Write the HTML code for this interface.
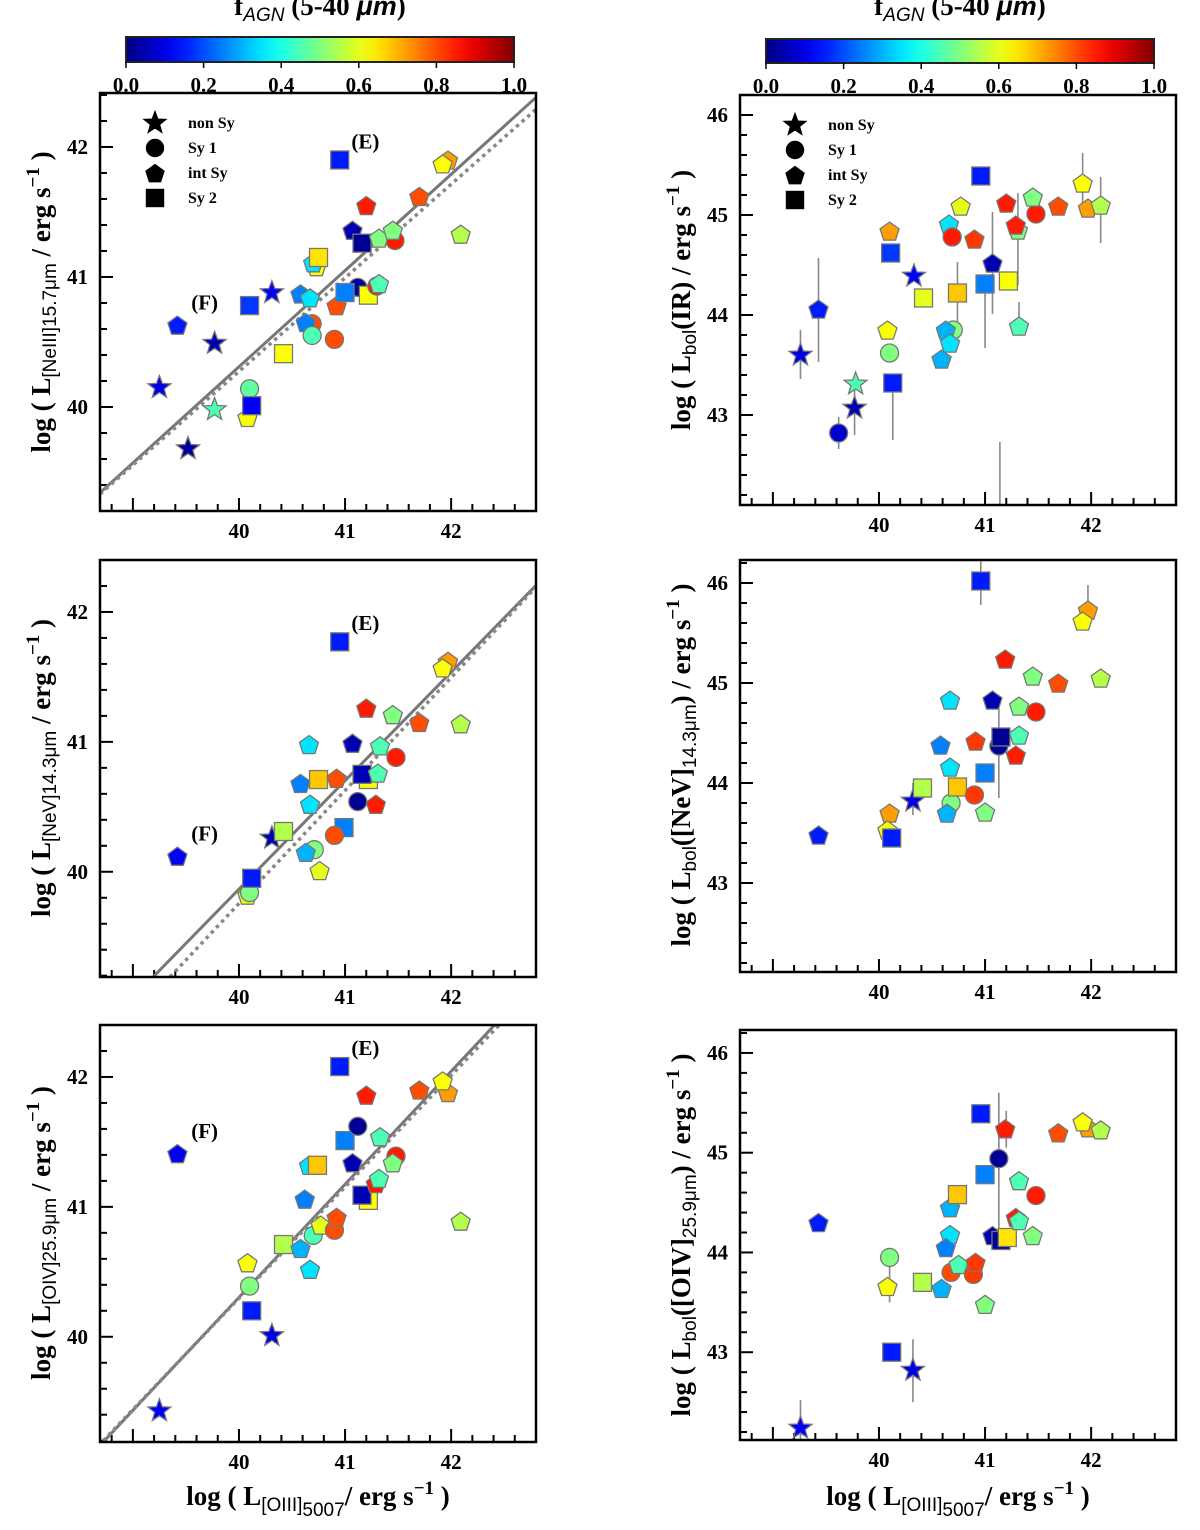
<!DOCTYPE html>
<html><head><meta charset="utf-8"><style>
html,body{margin:0;padding:0;background:#fff;}
svg{display:block;}
.tk{font-family:"Liberation Serif",serif;font-weight:bold;font-size:21px;fill:#000;}
.ttl{font-family:"Liberation Serif",serif;font-weight:bold;font-size:27px;fill:#000;}
.sub{font-family:"Liberation Sans",sans-serif;font-weight:normal;font-size:19px;}
.leg{font-family:"Liberation Serif",serif;font-weight:bold;font-size:16px;fill:#000;}
</style></head><body>
<svg id="fig" width="1200" height="1530" viewBox="0 0 1200 1530" xmlns="http://www.w3.org/2000/svg"></svg>
<script>
// ===== data =====
const cbTicks = [0.0, 0.2, 0.4, 0.6, 0.8, 1.0];
const xTicks = [40, 41, 42];
const yTicksLeft = [40, 41, 42];
const yTicksRight = [43, 44, 45, 46];

// panel 1: [NeIII] vs [OIII]
const p1X = [39.25,39.77,40.31,39.52,39.77,39.42,40.10,40.42,40.08,40.10,40.12,40.69,40.58,40.67,40.63,40.69,40.73,40.70,40.75,40.95,40.90,40.92,41.12,41.00,41.22,41.07,41.16,41.20,41.47,41.30,41.32,41.32,41.45,41.70,41.97,41.92,42.09];
const p1Y = [40.15,40.49,40.88,39.68,39.98,40.63,40.78,40.41,39.92,40.14,40.01,40.64,40.87,40.84,40.65,40.55,41.08,41.11,41.15,41.90,40.52,40.78,40.92,40.88,40.86,41.36,41.26,41.55,41.28,40.93,40.95,41.30,41.36,41.62,41.90,41.87,41.33];
const p1T = ['s','s','s','s','s','p','q','q','p','c','q','c','p','p','p','c','p','p','q','q','c','p','c','q','q','p','q','p','c','c','p','p','p','p','p','p','p'];
const p1F = [0.1,0.05,0.12,0.03,0.45,0.15,0.18,0.62,0.62,0.47,0.12,0.8,0.25,0.35,0.25,0.45,0.62,0.35,0.65,0.15,0.8,0.8,0.02,0.25,0.62,0.05,0.02,0.85,0.85,0.85,0.45,0.5,0.5,0.8,0.72,0.62,0.55];
const p1Fit = [0.74, 39.34, 38.69]; // slope, y at x0, x0
const p1Fit2 = [0.72, 39.33, 38.69];

// panel 2: [NeV] vs [OIII]
const p2X = [39.42,40.31,40.42,40.08,40.10,40.12,40.66,40.58,40.67,40.71,40.63,40.76,40.75,40.95,40.99,40.90,40.92,41.07,41.12,41.22,41.16,41.20,41.29,41.33,41.31,41.45,41.48,41.70,41.97,41.92,42.09];
const p2Y = [40.12,40.26,40.31,39.82,39.84,39.95,40.98,40.68,40.52,40.17,40.15,40.01,40.71,41.77,40.34,40.28,40.72,40.99,40.54,40.71,40.75,41.26,40.52,40.97,40.76,41.21,40.88,41.15,41.62,41.57,41.14];
const p2T = ['p','s','q','p','c','q','p','p','p','c','p','p','q','q','q','c','p','p','c','q','q','p','p','p','p','p','c','p','p','p','p'];
const p2F = [0.12,0.05,0.55,0.6,0.5,0.15,0.35,0.25,0.35,0.5,0.3,0.6,0.68,0.15,0.25,0.8,0.8,0.05,0.02,0.62,0.05,0.85,0.85,0.45,0.45,0.5,0.85,0.8,0.72,0.62,0.55];
const p2Fit = [0.835, 39.19, 39.19];
const p2Fit2 = [0.87, 39.19, 39.35];

// panel 3: [OIV] vs [OIII]
const p3X = [39.25,40.31,39.42,40.08,40.10,40.12,40.42,40.58,40.67,40.70,40.62,40.66,40.74,40.77,40.90,40.92,40.95,41.00,41.12,41.07,41.22,41.16,41.20,41.29,41.33,41.32,41.48,41.45,41.70,41.97,41.92,42.09];
const p3Y = [39.43,40.01,41.41,40.57,40.39,40.20,40.71,40.68,40.52,40.78,41.06,41.32,41.32,40.86,40.82,40.92,42.08,41.51,41.62,41.34,41.05,41.09,41.86,41.18,41.54,41.22,41.39,41.34,41.90,41.88,41.97,40.89];
const p3T = ['s','s','p','p','c','q','q','p','p','c','p','p','q','p','c','p','q','q','c','p','q','q','p','p','p','p','c','p','p','p','p','p'];
const p3F = [0.12,0.1,0.12,0.62,0.5,0.15,0.55,0.3,0.35,0.45,0.25,0.35,0.68,0.6,0.8,0.8,0.15,0.25,0.02,0.05,0.62,0.05,0.85,0.85,0.45,0.45,0.85,0.5,0.8,0.72,0.62,0.55];
const p3Fit = [0.87, 39.19, 38.72];
const p3Fit2 = [0.857, 39.20, 38.72];

// panel 4: Lbol(IR) vs [OIII]
const p4X = [39.26,39.43,39.78,39.77,39.62,40.10,40.11,40.08,40.10,40.13,40.33,40.42,40.77,40.66,40.69,40.90,40.96,41.07,41.00,40.74,41.22,40.70,40.63,40.67,40.59,41.32,41.20,41.31,41.29,41.48,41.45,41.69,41.92,41.97,42.09];
const p4Y = [43.60,44.06,43.31,43.07,42.82,44.84,44.62,43.85,43.62,43.32,44.39,44.17,45.09,44.91,44.78,44.76,45.39,44.52,44.31,44.22,44.34,43.85,43.85,43.72,43.56,43.89,45.12,44.85,44.90,45.01,45.18,45.09,45.32,45.07,45.10];
const p4T = ['s','p','s','s','c','p','q','p','c','q','s','q','p','p','c','p','q','p','q','q','q','c','p','p','p','p','p','p','p','c','p','p','p','p','p'];
const p4F = [0.1,0.15,0.45,0.05,0.08,0.72,0.18,0.62,0.5,0.15,0.12,0.6,0.6,0.35,0.85,0.82,0.15,0.05,0.25,0.68,0.62,0.5,0.3,0.35,0.3,0.45,0.85,0.5,0.85,0.85,0.5,0.8,0.62,0.72,0.55];
const p4ErrX = [39.26,39.43,39.77,39.62,40.13,41.07,41.00,40.74,41.32,41.31,41.92,42.09,41.14];
const p4ErrLo = [43.36,43.53,42.80,42.66,42.75,44.01,43.67,43.85,43.79,44.30,45.07,44.72,42.10];
const p4ErrHi = [43.85,44.57,43.35,42.98,43.40,45.03,44.36,44.53,44.13,45.22,45.62,45.38,42.73];

// panel 5: Lbol([NeV]) vs [OIII]
const p5X = [40.96,39.43,40.32,40.10,40.08,40.12,40.41,40.68,40.64,40.67,40.58,40.67,40.74,40.90,40.91,41.00,41.00,41.13,41.07,41.15,41.19,41.29,41.32,41.32,41.48,41.45,41.69,41.97,41.92,42.09];
const p5Y = [46.02,43.48,43.82,43.70,43.53,43.45,43.95,43.80,43.70,44.16,44.38,44.83,43.96,43.88,44.42,43.71,44.10,44.37,44.83,44.46,45.24,44.28,44.48,44.77,44.71,45.07,45.00,45.73,45.62,45.05];
const p5T = ['q','p','s','p','p','q','q','c','p','p','p','p','q','c','p','p','q','c','p','q','p','p','p','p','c','p','p','p','p','p'];
const p5F = [0.15,0.15,0.1,0.72,0.62,0.15,0.55,0.5,0.3,0.35,0.25,0.35,0.68,0.82,0.82,0.5,0.25,0.02,0.05,0.02,0.85,0.85,0.45,0.5,0.85,0.5,0.8,0.72,0.62,0.55];
const p5ErrX = [40.96,40.32,41.13,41.97];
const p5ErrLo = [45.78,43.68,43.85,45.55];
const p5ErrHi = [46.24,44.00,44.75,45.98];

// panel 6: Lbol([OIV]) vs [OIII]
const p6X = [39.26,39.43,40.32,40.12,40.10,40.08,40.41,40.59,40.68,40.67,40.67,40.63,40.74,40.75,40.89,40.91,40.96,41.00,41.00,41.13,41.07,41.15,41.19,41.21,41.29,41.32,41.32,41.45,41.48,41.69,41.97,41.92,42.09];
const p6Y = [42.24,44.30,42.82,43.00,43.95,43.66,43.70,43.64,43.80,44.18,44.45,44.05,44.58,43.88,43.78,43.90,45.39,44.78,43.48,44.94,44.17,44.12,45.24,44.15,44.35,44.72,44.32,44.17,44.57,45.20,45.25,45.31,45.23];
const p6T = ['s','p','s','q','c','p','q','p','c','p','p','p','q','p','c','p','q','q','p','c','p','q','p','q','p','p','p','p','c','p','p','p','p'];
const p6F = [0.12,0.15,0.1,0.15,0.5,0.62,0.55,0.3,0.8,0.35,0.3,0.25,0.68,0.45,0.82,0.82,0.15,0.25,0.5,0.02,0.05,0.02,0.85,0.65,0.85,0.45,0.45,0.5,0.85,0.8,0.72,0.62,0.55];
const p6ErrX = [39.26,40.32,41.13,40.12,40.10,41.20];
const p6ErrLo = [42.10,42.50,44.21,43.00,43.50,45.05];
const p6ErrHi = [42.52,43.13,45.60,43.00,43.95,45.42];

// ===== drawing =====
const NS = 'http://www.w3.org/2000/svg';
const svg = document.getElementById('fig');
function mk(tag, attrs, parent){
  const e = document.createElementNS(NS, tag);
  for (const k in attrs) e.setAttribute(k, attrs[k]);
  (parent||svg).appendChild(e);
  return e;
}
function jet(f){
  const c = v => Math.round(255*Math.max(0,Math.min(1,v)));
  return 'rgb('+c(1.5-Math.abs(4*f-3))+','+c(1.5-Math.abs(4*f-2))+','+c(1.5-Math.abs(4*f-1))+')';
}
function linScale(d0,d1,r0,r1){ return v => r0 + (v-d0)/(d1-d0)*(r1-r0); }

function marker(g, t, cx, cy, fill, stroke, sz){
  let e;
  if (t==='q'){ const h=9*sz; e = mk('rect',{x:cx-h,y:cy-h,width:2*h,height:2*h},g); }
  else if (t==='c'){ e = mk('circle',{cx:cx,cy:cy,r:9*sz},g); }
  else if (t==='p'){
    const r=10*sz, pts=[];
    for(let i=0;i<5;i++){const a=-Math.PI/2+i*2*Math.PI/5; pts.push((cx+r*Math.cos(a)).toFixed(1)+','+(cy+1+r*Math.sin(a)).toFixed(1));}
    e = mk('polygon',{points:pts.join(' ')},g);
  } else {
    const R=12*sz, r=5*sz, pts=[];
    for(let i=0;i<10;i++){const a=-Math.PI/2+i*Math.PI/5, rr=i%2?r:R; pts.push((cx+rr*Math.cos(a)).toFixed(1)+','+(cy+rr*Math.sin(a)).toFixed(1));}
    e = mk('polygon',{points:pts.join(' ')},g);
  }
  e.setAttribute('fill', fill);
  e.setAttribute('stroke', stroke);
  e.setAttribute('stroke-width', 1.3);
  return e;
}

function panel(cfg){
  const g = mk('g',{});
  
  
  const sx = linScale(cfg.xd[0],cfg.xd[1],cfg.x0,cfg.x1);
  const sy = linScale(cfg.yd[0],cfg.yd[1],cfg.y1,cfg.y0);
  const clipId = 'clip-'+cfg.name;
  const cp = mk('clipPath',{id:clipId},g);
  mk('rect',{x:cfg.x0,y:cfg.y0,width:cfg.x1-cfg.x0,height:cfg.y1-cfg.y0},cp);
  const tg = mk('g',{stroke:'#000','stroke-width':2},g);
  
  
  for (let v=Math.ceil(cfg.xd[0]*5)/5; v<=cfg.xd[1]; v+=0.2){
    const major = Math.abs(v-Math.round(v))<1e-6;
    const X = sx(v);
    mk('line',{x1:X,x2:X,y1:cfg.y1,y2:cfg.y1-(major?13:7)},tg);
  }
  for (let v=Math.ceil(cfg.yd[0]*5)/5; v<=cfg.yd[1]; v+=0.2){
    const major = Math.abs(v-Math.round(v))<1e-6;
    const Y = sy(v);
    mk('line',{x1:cfg.x0,x2:cfg.x0+(major?13:7),y1:Y,y2:Y},tg);
  }
  xTicks.forEach(v=>{
    const t = mk('text',{x:sx(v),y:cfg.y1+27,'text-anchor':'middle',class:'tk'},g);
    t.textContent = v;
    
    
  });
  cfg.yt.forEach(v=>{
    const t = mk('text',{x:cfg.x0-12,y:sy(v)+7,'text-anchor':'end',class:'tk'},g);
    t.textContent = v;
    
    
  });
  const dg = mk('g',{'clip-path':'url(#'+clipId+')'},g);
  if (cfg.fit){
    const f = cfg.fit, f2 = cfg.fit2;
    const l1 = mk('line',{x1:sx(f[2]),y1:sy(f[1]),x2:sx(f[2]+5),y2:sy(f[1]+5*f[0]),stroke:'#777','stroke-width':3},dg);
    
    
    const l2 = mk('line',{x1:sx(f2[2]),y1:sy(f2[1]),x2:sx(f2[2]+5),y2:sy(f2[1]+5*f2[0]),stroke:'#888','stroke-width':3.5,'stroke-dasharray':'3.5 4'},dg);
    
    
  }
  if (cfg.ex){
    cfg.ex.forEach((xv,i)=>{
      const e = mk('line',{x1:sx(xv),x2:sx(xv),y1:sy(cfg.elo[i]),y2:sy(cfg.ehi[i]),stroke:'#888','stroke-width':1.6},dg);
      
      
    });
  }
  cfg.X.forEach((xv,i)=>{
    const m = marker(dg, cfg.T[i], sx(xv), sy(cfg.Y[i]), jet(cfg.F[i]), '#777', 1);
    
    
  });
  (cfg.ann||[]).forEach(a=>{
    const t = mk('text',{x:sx(a[1]),y:sy(a[2]),class:'tk','font-size':'20'},g);
    t.textContent = a[0];
    
    
  });
  const fr = mk('rect',{x:cfg.x0,y:cfg.y0,width:cfg.x1-cfg.x0,height:cfg.y1-cfg.y0,fill:'none',stroke:'#000','stroke-width':2.5},g);
  
  
  if (cfg.legend){
    const lg = mk('g',{},g);
    
    
    const labs=['non Sy','Sy 1','int Sy','Sy 2'], ts=['s','c','p','q'];
    labs.forEach((l,i)=>{
      const yy = cfg.y0+30+i*25;
      const m = marker(lg, ts[i], cfg.x0+55, yy, '#000', '#000', 0.95);
      
      
      const t = mk('text',{x:cfg.x0+88,y:yy+5,class:'leg'},lg);
      t.textContent = l;
      
      
    });
  }
  return {sx,sy};
}

function colorbar(x0,x1,y0,y1,name,cx){
  const g = mk('g',{});
  
  
  const defs = mk('defs',{},g);
  const lg = mk('linearGradient',{id:'grad-'+name,x1:'0',x2:'1',y1:'0',y2:'0'},defs);
  for(let i=0;i<=20;i++){ mk('stop',{offset:(i/20),'stop-color':jet(i/20)},lg); }
  mk('rect',{x:x0,y:y0,width:x1-x0,height:y1-y0,fill:'url(#grad-'+name+')',stroke:'#222','stroke-width':2},g);
  const s = linScale(0,1,x0,x1);
  cbTicks.forEach(v=>{
    mk('line',{x1:s(v),x2:s(v),y1:y1,y2:y1+6,stroke:'#000','stroke-width':1.5},g);
    const t = mk('text',{x:s(v),y:y1+30,'text-anchor':'middle',class:'tk','font-size':'22'},g);
    t.textContent = v.toFixed(1);
    
    
  });
  const t = mk('text',{x:cx,y:15,'text-anchor':'middle',class:'ttl','font-size':'28'},g);
  
  
  t.innerHTML = 'f<tspan class="sub" font-style="italic" dy="6">AGN</tspan><tspan dy="-6"> (5-40 </tspan><tspan font-style="italic" font-family="Liberation Sans, sans-serif">μm</tspan>)';
}

colorbar(126,514,37,62,'colorbar-left',320);
colorbar(766,1154,39,63,'colorbar-right',960);

const LX = [100,536], RX = [740,1176], XD = [38.69,42.80];
panel({name:'panel-neiii',x0:LX[0],x1:LX[1],y0:93,y1:511,xd:XD,yd:[39.2,42.415],yt:yTicksLeft,X:p1X,Y:p1Y,T:p1T,F:p1F,fit:p1Fit,fit2:p1Fit2,legend:true,ann:[['(E)',41.06,41.99],['(F)',39.55,40.75]]});
panel({name:'panel-nev',x0:LX[0],x1:LX[1],y0:560,y1:977,xd:XD,yd:[39.19,42.4],yt:yTicksLeft,X:p2X,Y:p2Y,T:p2T,F:p2F,fit:p2Fit,fit2:p2Fit2,ann:[['(E)',41.06,41.86],['(F)',39.55,40.24]]});
panel({name:'panel-oiv',x0:LX[0],x1:LX[1],y0:1025,y1:1442,xd:XD,yd:[39.19,42.4],yt:yTicksLeft,X:p3X,Y:p3Y,T:p3T,F:p3F,fit:p3Fit,fit2:p3Fit2,ann:[['(E)',41.06,42.17],['(F)',39.55,41.53]]});
panel({name:'panel-lbol-ir',x0:RX[0],x1:RX[1],y0:95,y1:505,xd:XD,yd:[42.1,46.2],yt:yTicksRight,X:p4X,Y:p4Y,T:p4T,F:p4F,ex:p4ErrX,elo:p4ErrLo,ehi:p4ErrHi,legend:true});
panel({name:'panel-lbol-nev',x0:RX[0],x1:RX[1],y0:560,y1:972,xd:XD,yd:[42.11,46.23],yt:yTicksRight,X:p5X,Y:p5Y,T:p5T,F:p5F,ex:p5ErrX,elo:p5ErrLo,ehi:p5ErrHi});
panel({name:'panel-lbol-oiv',x0:RX[0],x1:RX[1],y0:1030,y1:1440,xd:XD,yd:[42.12,46.23],yt:yTicksRight,X:p6X,Y:p6Y,T:p6T,F:p6F,ex:p6ErrX,elo:p6ErrLo,ehi:p6ErrHi});

function ytitle(x,y,html,name){
  const t = mk('text',{x:0,y:0,'text-anchor':'middle',class:'ttl',transform:'translate('+x+','+y+') rotate(-90)'});
  t.innerHTML = html;
  
  
}
const tail = '<tspan dy="-6"> / erg s</tspan><tspan dy="-11" font-size="19">−1</tspan><tspan dy="11"> )</tspan>';
ytitle(50,302,'log ( L<tspan class="sub" dy="6">[NeIII]15.7μm</tspan>'+tail,'y-axis-title-neiii');
ytitle(50,768,'log ( L<tspan class="sub" dy="6">[NeV]14.3μm</tspan>'+tail,'y-axis-title-nev');
ytitle(50,1233,'log ( L<tspan class="sub" dy="6">[OIV]25.9μm</tspan>'+tail,'y-axis-title-oiv');
ytitle(690,300,'log ( L<tspan class="sub" dy="6">bol</tspan><tspan dy="-6">(IR)</tspan><tspan> / erg s</tspan><tspan dy="-11" font-size="19">−1</tspan><tspan dy="11"> )</tspan>','y-axis-title-lbol-ir');
ytitle(690,765,'log ( L<tspan class="sub" dy="6">bol</tspan><tspan dy="-6">([NeV]</tspan><tspan class="sub" dy="6">14.3μm</tspan><tspan dy="-6">) / erg s</tspan><tspan dy="-11" font-size="19">−1</tspan><tspan dy="11"> )</tspan>','y-axis-title-lbol-nev');
ytitle(690,1235,'log ( L<tspan class="sub" dy="6">bol</tspan><tspan dy="-6">([OIV]</tspan><tspan class="sub" dy="6">25.9μm</tspan><tspan dy="-6">) / erg s</tspan><tspan dy="-11" font-size="19">−1</tspan><tspan dy="11"> )</tspan>','y-axis-title-lbol-oiv');
function xtitle(x,name){
  const t = mk('text',{x:x,y:1505,'text-anchor':'middle',class:'ttl','font-size':'28'});
  t.innerHTML = 'log ( L<tspan class="sub" dy="6">[OIII]</tspan><tspan class="sub" dy="5">5007</tspan><tspan dy="-11">/ erg s</tspan><tspan dy="-11" font-size="19">−1</tspan><tspan dy="11"> )</tspan>';
  
  
}
xtitle(318,'x-axis-title-left');
xtitle(958,'x-axis-title-right');
</script>
</body></html>
